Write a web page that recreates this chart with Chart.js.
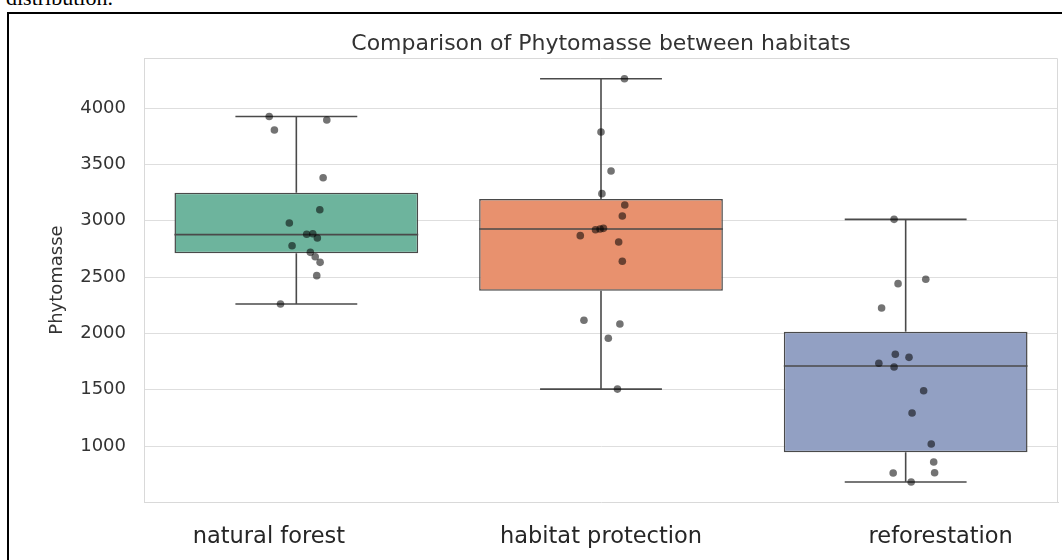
<!DOCTYPE html>
<html><head><meta charset="utf-8">
<script src="https://cdn.jsdelivr.net/npm/chart.js@4.4.1/dist/chart.umd.min.js"></script>
<style>
html,body{margin:0;padding:0;background:#fff;width:1062px;height:560px;overflow:hidden;}
#lead{position:absolute;left:6px;top:-15px;font-family:"Liberation Serif","DejaVu Serif",serif;font-size:22px;line-height:25px;color:#000;white-space:nowrap;}
#frame{position:absolute;left:7px;top:12px;width:1100px;height:600px;border-left:2px solid #000;border-top:2px solid #000;}
#wrap{position:absolute;left:0;top:0;width:1062px;height:560px;}
</style></head><body>
<div id="lead">distribution.</div>
<div id="frame"></div>
<div id="wrap"><canvas id="c" width="1062" height="560"></canvas></div>
<script>
const categories = ['natural forest', 'habitat protection', 'reforestation'];
const yTicks = [1000, 1500, 2000, 2500, 3000, 3500, 4000];
const yRange = [503, 4444];

const whiskerLow  = [2260, 1505, 680];
const quartile1   = [2710, 2378, 944];
const medians     = [2876, 2926, 1710];
const quartile3   = [3248, 3192, 2015];
const whiskerHigh = [3925, 4260, 3012];

const naturalForestValues = [3925, 3805, 3894, 3381, 3097, 2979, 2879, 2884, 2846, 2778, 2719, 2680, 2630, 2512, 2260];
const naturalForestJitter = [-0.089, -0.072, 0.100, 0.088, 0.077, -0.023, 0.034, 0.054, 0.069, -0.014, 0.046, 0.062, 0.078, 0.067, -0.052];
const habitatProtectionValues = [4260, 3787, 3441, 3240, 3139, 3042, 2920, 2926, 2932, 2867, 2811, 2640, 2116, 2083, 1956, 1505];
const habitatProtectionJitter = [0.077, 0.000, 0.033, 0.003, 0.078, 0.070, -0.018, -0.003, 0.008, -0.068, 0.058, 0.070, -0.056, 0.062, 0.024, 0.054];
const reforestationValues = [3012, 2480, 2441, 2225, 1814, 1787, 1734, 1701, 1491, 1293, 1018, 858, 760, 763, 680];
const reforestationJitter = [-0.038, 0.066, -0.025, -0.079, -0.034, 0.011, -0.088, -0.038, 0.059, 0.021, 0.084, 0.092, -0.041, 0.095, 0.018];

const groupValues = [naturalForestValues, habitatProtectionValues, reforestationValues];
const groupJitter = [naturalForestJitter, habitatProtectionJitter, reforestationJitter];

const boxColors = ['#6db49d', '#e8916e', '#92a0c3'];
const lineColor = '#4a4a4a';

const datasets = [];
const pts = [];
groupValues.forEach((vals, i) => vals.forEach((v, j) => pts.push({x: i + groupJitter[i][j], y: v})));
datasets.push({type: 'scatter', data: pts, backgroundColor: 'rgba(0,0,0,0.55)', borderWidth: 0, pointRadius: 3.8, order: 0});
datasets.push({type: 'bar', data: categories.map((c, i) => ({x: i, y: [quartile1[i], quartile3[i]]})),
  backgroundColor: boxColors, borderColor: lineColor, borderWidth: 1.5, borderSkipped: false,
  barPercentage: 0.8, categoryPercentage: 1, order: 2});
function seg(a, b) {
  datasets.push({type: 'line', data: [a, b], borderColor: lineColor, borderWidth: 1.6, pointRadius: 0, fill: false, order: 1});
}
categories.forEach((c, i) => {
  seg({x: i - 0.4, y: medians[i]}, {x: i + 0.4, y: medians[i]});
  seg({x: i, y: quartile3[i]}, {x: i, y: whiskerHigh[i]});
  seg({x: i, y: quartile1[i]}, {x: i, y: whiskerLow[i]});
  seg({x: i - 0.2, y: whiskerHigh[i]}, {x: i + 0.2, y: whiskerHigh[i]});
  seg({x: i - 0.2, y: whiskerLow[i]}, {x: i + 0.2, y: whiskerLow[i]});
});

const spines = {
  id: 'spines',
  beforeDatasetsDraw(chart) {
    const {ctx, chartArea: a} = chart;
    ctx.save();
    ctx.strokeStyle = '#d9d9d9';
    ctx.lineWidth = 1;
    ctx.beginPath();
    ctx.moveTo(a.left, a.top + 0.5); ctx.lineTo(a.right - 0.5, a.top + 0.5); ctx.lineTo(a.right - 0.5, a.bottom);
    ctx.stroke();
    ctx.restore();
  }
};

// the reference places its category labels slightly spread outward from the box centres
const labelNudge = [-0.09, 0, 0.115];

new Chart(document.getElementById('c'), {
  type: 'bar',
  data: {datasets},
  plugins: [spines],
  options: {
    responsive: false,
    animation: false,
    layout: {padding: {left: 0, right: 2, top: 0, bottom: 0}},
    plugins: {
      legend: {display: false},
      tooltip: {enabled: false},
      title: {display: true, fullSize: false, text: 'Comparison of Phytomasse between habitats',
        font: {family: 'DejaVu Sans', size: 22, weight: 'normal'}, color: '#333',
        padding: {top: 31, bottom: 0.6}}
    },
    scales: {
      x: {type: 'linear', min: -0.5, max: 2.5, offset: false,
        afterBuildTicks: s => { s.ticks = categories.map((c, i) => ({value: i + labelNudge[i], label: c})); },
        afterFit: s => { s.height = 58; },
        ticks: {callback: (v, idx) => categories[idx], font: {family: 'DejaVu Sans', size: 22.5}, color: '#262626',
          padding: 22, maxRotation: 0, autoSkip: false},
        grid: {display: false, drawTicks: false, offset: false},
        border: {color: '#d9d9d9'}},
      y: {min: yRange[0], max: yRange[1],
        afterBuildTicks: s => { s.ticks = yTicks.map(v => ({value: v})); },
        afterFit: s => { s.width = 144; },
        ticks: {callback: v => String(v), font: {family: 'DejaVu Sans', size: 18}, color: '#333', padding: 18},
        grid: {color: '#dedede', drawTicks: false},
        border: {color: '#d9d9d9'},
        title: {display: true, text: 'Phytomasse', font: {family: 'DejaVu Sans', size: 18}, color: '#333',
          padding: {top: 47, bottom: 0}}}
    }
  }
});
</script>
</body></html>
